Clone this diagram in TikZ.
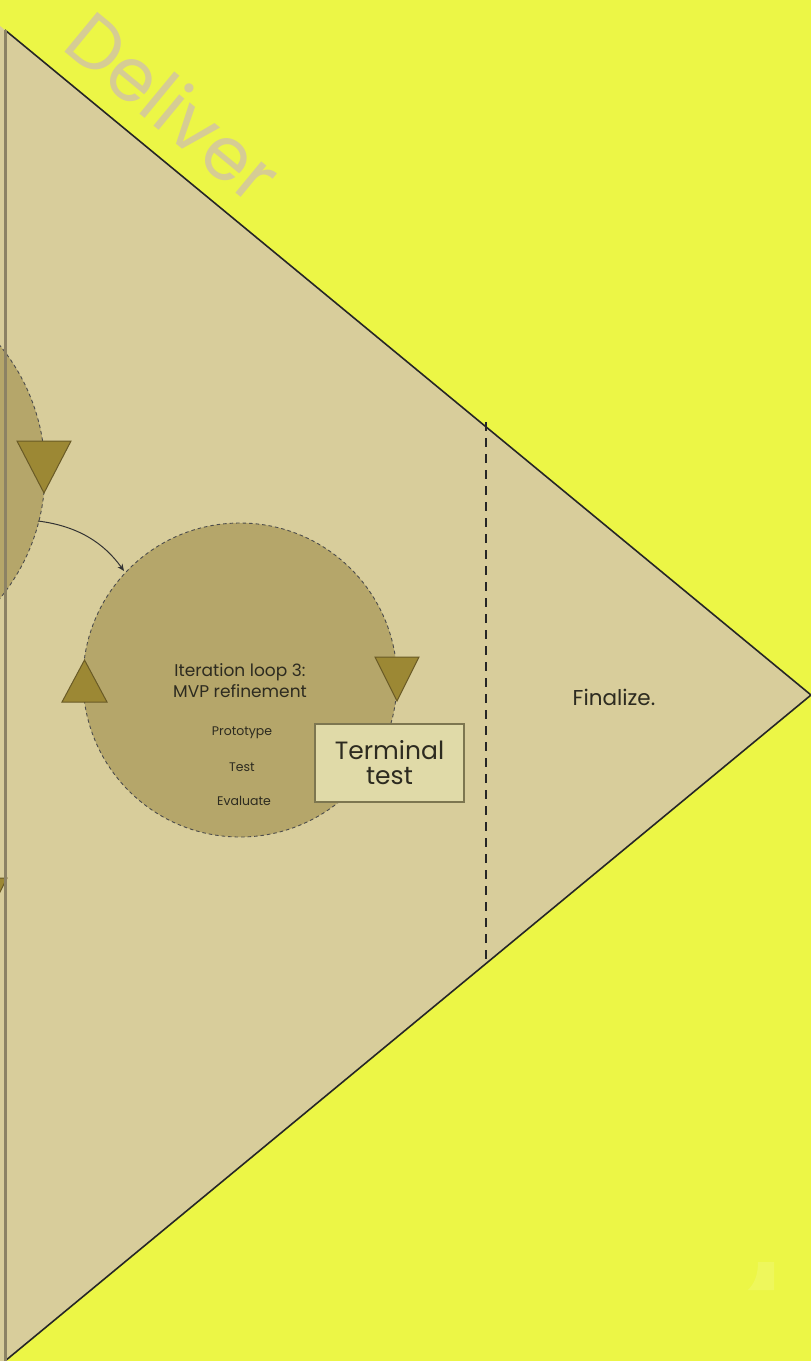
\documentclass[tikz,border=0pt]{standalone}
\usepackage{fontspec}
\setmainfont{Poppins}
\usetikzlibrary{arrows.meta}
\definecolor{bgyellow}{RGB}{236,246,70}
\definecolor{stagefill}{RGB}{216,205,155}
\definecolor{titletan}{RGB}{214,204,148}
\definecolor{loopfill}{RGB}{181,166,106}
\definecolor{markfill}{RGB}{156,136,52}
\definecolor{markedge}{RGB}{105,90,38}
\definecolor{boxfill}{RGB}{224,218,168}
\definecolor{boxedge}{RGB}{125,118,80}
\definecolor{divider}{RGB}{140,130,100}
\definecolor{inktext}{RGB}{45,43,32}
\tikzset{
  looparea/.style={fill=loopfill, draw=black!70, dash pattern=on 3.5pt off 3pt, line width=0.9pt},
  marker/.style={fill=markfill, draw=markedge, line width=1pt, line join=miter},
  labeltext/.style={text=inktext, align=center, inner sep=0pt},
  termbox/.style={fill=boxfill, draw=boxedge, line width=2pt, minimum width=149pt, minimum height=78pt, inner sep=0pt, align=center, text=inktext, font=\fontsize{25}{28}\selectfont},
  flowarrow/.style={draw=black!80, line width=1pt, -{Stealth[length=7pt,width=6pt]}}
}
\begin{document}
\begin{tikzpicture}[x=1pt,y=-1pt]
  % canvas
  \fill[bgyellow] (0,0) rectangle (811,1361);
  \useasboundingbox (0,0) rectangle (811,1361);
  \begin{scope}
    \clip (0,0) rectangle (811,1361);
    % stage triangle
    \fill[stagefill] (0,26) -- (5,30) -- (811,695) -- (5,1361) -- (0,1361) -- cycle;
    % watermark title
    \node[rotate=-39.5, text=titletan, font=\fontsize{74}{80}\selectfont, inner sep=0pt] (title) at (174,106) {Deliver};
    % previous loop, partly visible
    \fill[looparea] (-155,472) circle[radius=200];
    \draw[marker] (17,441) -- (71,441) -- (44,493) -- cycle;
    \draw[marker] (-37,878) -- (7,878) -- (-15,922) -- cycle;
    \coordinate (prevout) at (38,521);
    \coordinate (loopin) at (124,571);
    % current loop
    \node[looparea, circle, minimum size=314pt, inner sep=0pt] (loop3) at (240,680) {};
    \draw[marker] (62,702) -- (107,702) -- (84.5,660) -- cycle;
    \draw[marker] (375,657) -- (419,657) -- (397,701) -- cycle;
    \node[labeltext, font=\fontsize{17}{21}\selectfont] (looptitle) at (240,681) {Iteration loop 3:\\MVP refinement};
    \node[labeltext, font=\fontsize{12.5}{14}\selectfont] (proto) at (242,733) {Prototype};
    \node[labeltext, font=\fontsize{12.5}{14}\selectfont] (test) at (242,767) {Test};
    \node[labeltext, font=\fontsize{12.5}{14}\selectfont] (eval) at (244,801) {Evaluate};
    \node[termbox] (terminal) at (389.5,763) {Terminal\\[-3pt]test};
    % stage outline
    \draw[black!85, line width=1.6pt, line join=miter] (5,30) -- (811,695) -- (5,1361);
    \draw[divider, line width=3pt] (5,30) -- (5,1361);
    % closing sub-stage
    \draw[black!85, line width=1.5pt, dash pattern=on 9pt off 7pt] (486,422) -- (486,966);
    \node[labeltext, font=\fontsize{21.5}{24}\selectfont] (final) at (614,697) {Finalize.};
    % transition between loops
    \draw[flowarrow] (prevout) .. controls (78,526) and (104,543) .. (loopin);
    % faint corner mark
    \fill[white, opacity=0.12] (758,1262) -- (774,1262) -- (774,1290) -- (748,1290) .. controls (756,1282) and (758,1272) .. (758,1262) -- cycle;
  \end{scope}
\end{tikzpicture}
\end{document}
